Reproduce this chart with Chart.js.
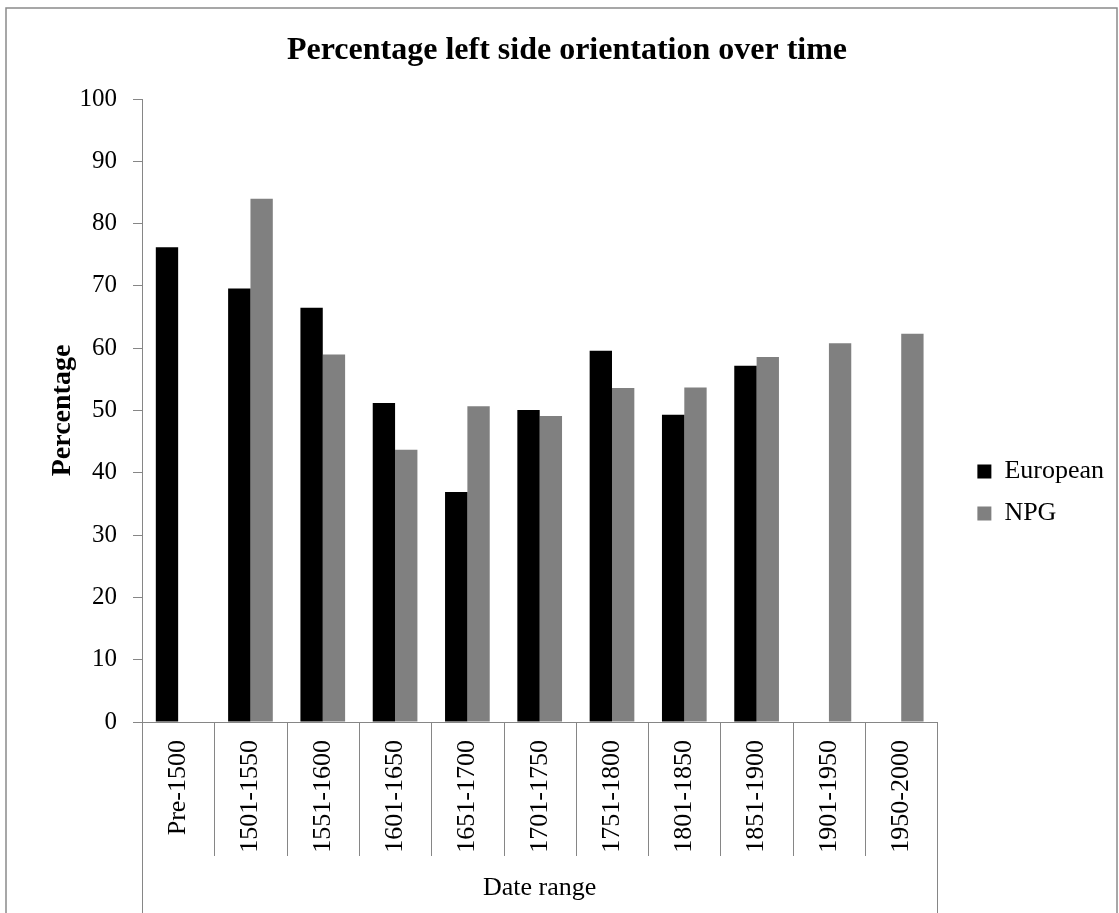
<!DOCTYPE html>
<html>
<head>
<meta charset="utf-8">
<title>Percentage left side orientation over time</title>
<script src="https://cdn.jsdelivr.net/npm/chart.js@4.4.1/dist/chart.umd.min.js"></script>
<style>
  html, body { margin: 0; padding: 0; background: #fff; }
  #wrap { width: 1119px; height: 913px; }
</style>
</head>
<body>
<div id="wrap"><canvas id="chart" width="1119" height="913"></canvas></div>
<script>
const categories = ["Pre-1500", "1501-1550", "1551-1600", "1601-1650", "1651-1700",
  "1701-1750", "1751-1800", "1801-1850", "1851-1900", "1901-1950", "1950-2000"];
const european = [76.2, 69.6, 66.5, 51.2, 36.9, 50.1, 59.6, 49.3, 57.2, null, null];
const npg = [null, 84.0, 59.0, 43.7, 50.7, 49.1, 53.6, 53.7, 58.6, 60.8, 62.3];
const yTicksMax = 100;
const yTicksStep = 10;

const serif = "'Liberation Serif', 'Times New Roman', serif";
const lineGray = "#868686";

// category dividers under the x axis + outer frame, like the Excel chart
const dividers = {
  id: "dividers",
  afterDraw(chart) {
    const { ctx, scales: { x } } = chart;
    const n = categories.length;
    const step = (x.right - x.left) / n;
    ctx.save();
    ctx.strokeStyle = lineGray;
    ctx.lineWidth = 1;
    for (let i = 0; i <= n; i++) {
      const px = Math.round(x.left + i * step) + 0.5;
      const end = (i === 0 || i === n) ? chart.height : x.top + 134;
      ctx.beginPath();
      ctx.moveTo(px, x.top);
      ctx.lineTo(px, end);
      ctx.stroke();
    }
    ctx.lineWidth = 1.5;
    ctx.strokeStyle = "#8a8a8a";
    ctx.strokeRect(6, 8, 1111, chart.height + 20);
    ctx.restore();
  }
};

Chart.defaults.font.family = serif;
Chart.defaults.color = "#000";

new Chart(document.getElementById("chart"), {
  type: "bar",
  data: {
    labels: categories,
    datasets: [
      { label: "European", data: european, backgroundColor: "#000000" },
      { label: "NPG", data: npg, backgroundColor: "#808080" }
    ]
  },
  options: {
    responsive: false,
    animation: false,
    devicePixelRatio: 1,
    categoryPercentage: 0.618,
    barPercentage: 1.0,
    layout: { padding: { top: 22, left: 20, right: 5, bottom: 0 } },
    plugins: {
      title: {
        display: true,
        text: "Percentage left side orientation over time",
        font: { size: 32, weight: "bold", family: serif },
        color: "#000",
        padding: { top: 10, bottom: 28.6 }
      },
      legend: {
        position: "right",
        title: { display: true, text: " ", font: { size: 10 }, padding: { top: 0, bottom: 38 } },
        labels: {
          boxWidth: 14,
          boxHeight: 14,
          padding: 16,
          font: { size: 26, family: serif },
          color: "#000"
        }
      },
      tooltip: { enabled: false }
    },
    scales: {
      x: {
        offset: true,
        afterFit: (s) => { s.height = 191; },
        grid: { display: true, drawOnChartArea: false, drawTicks: false },
        border: { display: true, color: lineGray, width: 1 },
        ticks: {
          minRotation: 90,
          maxRotation: 90,
          autoSkip: false,
          padding: 18,
          font: { size: 26, family: serif },
          color: "#000"
        },
        title: {
          display: true,
          text: "Date range",
          font: { size: 26, family: serif },
          color: "#000",
          padding: { top: 20, bottom: 9 }
        }
      },
      y: {
        min: 0,
        max: yTicksMax,
        afterFit: (s) => { s.width = 122; },
        grid: { drawOnChartArea: false, drawTicks: true, tickLength: 9, color: lineGray },
        border: { display: true, color: lineGray, width: 1 },
        ticks: {
          stepSize: yTicksStep,
          padding: 16,
          font: { size: 25, family: serif },
          color: "#000"
        },
        title: {
          display: true,
          text: "Percentage",
          font: { size: 28, weight: "bold", family: serif },
          color: "#000",
          padding: { top: 26, bottom: 1 }
        }
      },
      gap: {
        type: "linear",
        position: "right",
        display: true,
        grid: { display: false },
        border: { display: false },
        ticks: { display: false },
        afterFit: (s) => { s.width = 24; }
      }
    }
  },
  plugins: [dividers]
});
</script>
</body>
</html>
